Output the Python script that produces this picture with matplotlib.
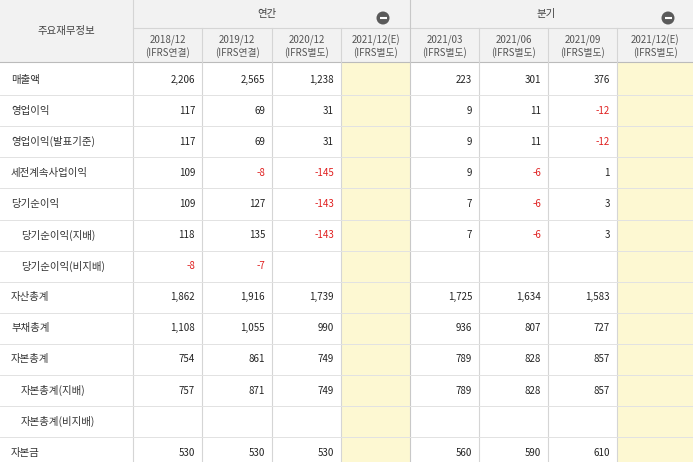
import matplotlib
matplotlib.use("Agg")
import matplotlib.pyplot as plt
from matplotlib.patches import Rectangle, Circle

plt.rcParams['font.family'] = ['Noto Sans CJK JP', 'Noto Sans CJK KR', 'Noto Sans CJK SC', 'DejaVu Sans']

periods = ["2018/12", "2019/12", "2020/12", "2021/12(E)", "2021/03", "2021/06", "2021/09", "2021/12(E)"]
standards = ["(IFRS연결)", "(IFRS연결)", "(IFRS별도)", "(IFRS별도)", "(IFRS별도)", "(IFRS별도)", "(IFRS별도)", "(IFRS별도)"]
row_labels = ["매출액", "영업이익", "영업이익(발표기준)", "세전계속사업이익", "당기순이익", "당기순이익(지배)",
              "당기순이익(비지배)", "자산총계", "부채총계", "자본총계", "자본총계(지배)", "자본총계(비지배)", "자본금"]
indented = [False, False, False, False, False, True, True, False, False, False, True, True, False]
values = [
    [2206, 2565, 1238, None, 223, 301, 376, None],
    [117, 69, 31, None, 9, 11, -12, None],
    [117, 69, 31, None, 9, 11, -12, None],
    [109, -8, -145, None, 9, -6, 1, None],
    [109, 127, -143, None, 7, -6, 3, None],
    [118, 135, -143, None, 7, -6, 3, None],
    [-8, -7, None, None, None, None, None, None],
    [1862, 1916, 1739, None, 1725, 1634, 1583, None],
    [1108, 1055, 990, None, 936, 807, 727, None],
    [754, 861, 749, None, 789, 828, 857, None],
    [757, 871, 749, None, 789, 828, 857, None],
    [None, None, None, None, None, None, None, None],
    [530, 530, 530, None, 560, 590, 610, None],
]
group_labels = ["연간", "분기"]

W, H = 693, 462
fig = plt.figure(figsize=(W/100, H/100), dpi=100)
ax = fig.add_axes([0, 0, 1, 1])
ax.set_xlim(0, W); ax.set_ylim(H, 0); ax.axis('off')

edges = [0, 133, 202, 272, 341, 410, 479, 548, 617, 693]
h1, h2 = 28, 62
rh = 31.1
hdr_bg = '#f2f2f2'; line = '#d5d5d5'; yellow = '#fdf8d2'
fs = 7

ax.add_patch(Rectangle((0, 0), W, h2, fc=hdr_bg, ec='none'))
for ci in (3, 7):
    ax.add_patch(Rectangle((edges[ci+1], h2), edges[ci+2]-edges[ci+1], H-h2, fc=yellow, ec='none'))
ax.plot([133, W], [h1, h1], color=line, lw=0.8)
ax.plot([0, W], [h2, h2], color='#bbbbbb', lw=0.8)
ax.plot([133, 133], [0, H], color=line, lw=0.8)
ax.plot([410, 410], [0, H], color='#c8c8c8', lw=0.8)
for x in edges[2:-1]:
    if x != 410:
        ax.plot([x, x], [h1, H], color=line, lw=0.8)
ax.text(66, 31, "주요재무정보", ha='center', va='center', fontsize=fs+0.5, color='#444')
for gi, (x0, x1) in enumerate([(133, 410), (410, 693)]):
    ax.text((x0+x1)/2 - 5, 14, group_labels[gi], ha='center', va='center', fontsize=fs+0.5, color='#444')
    cx = x1 - 27 if gi == 0 else x1 - 25
    ax.add_patch(Circle((cx, 18), 6.5, fc='#5a5a5a', ec='none'))
    ax.plot([cx-3.5, cx+3.5], [18, 18], color='white', lw=1.5, solid_capstyle='butt')
for i in range(8):
    cx = (edges[i+1] + edges[i+2]) / 2
    ax.text(cx, 40, periods[i], ha='center', va='center', fontsize=fs, color='#555')
    ax.text(cx, 53, standards[i], ha='center', va='center', fontsize=fs, color='#555')

for r, lab in enumerate(row_labels):
    y0 = h2 + 2 + r*rh
    yc = y0 + rh/2
    ax.plot([0, W], [y0+rh, y0+rh], color='#e2e2e2', lw=0.7)
    ax.text(21 if indented[r] else 11, yc, lab, ha='left', va='center', fontsize=fs+0.5, color='#333')
    for i, v in enumerate(values[r]):
        if v is None:
            continue
        ax.text(edges[i+2]-7, yc, f"{v:,}", ha='right', va='center', fontsize=fs,
                color='#e02020' if v < 0 else '#222')

fig.savefig("out.png", dpi=100)
